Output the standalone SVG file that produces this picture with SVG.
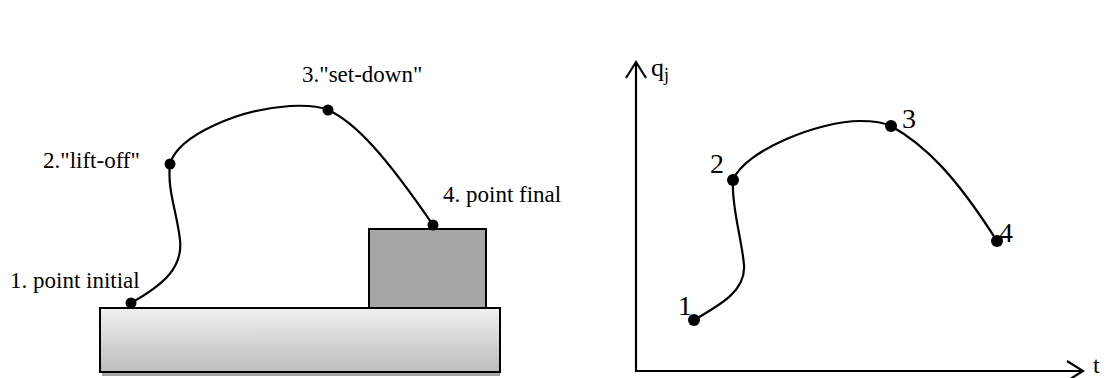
<svg xmlns="http://www.w3.org/2000/svg" width="1109" height="378" viewBox="0 0 1109 378">
<defs>
<linearGradient id="baseGrad" x1="0" y1="0" x2="0" y2="1">
<stop offset="0" stop-color="#f0f0f0"/>
<stop offset="1" stop-color="#bdbdbd"/>
</linearGradient>
</defs>
<style>
.curve{fill:none;stroke:#000;stroke-width:2.2}
.axis{fill:none;stroke:#000;stroke-width:2.2}
.dot{fill:#000}
</style>
<rect x="102" y="372" width="398" height="4" fill="#a6a6a6"/>
<g id="base"><rect x="100" y="308" width="400" height="64" fill="url(#baseGrad)" stroke="#000" stroke-width="2"/></g>
<g id="box"><rect x="369" y="229" width="117" height="79" fill="#a6a6a6" stroke="#000" stroke-width="2"/></g>
<g id="connectors">
<path class="curve" d="M131,303 C163,285 183,268 180,240 C177,212 167,190 170,164"/>
<path class="curve" d="M170,164 C178,135 240,109 290,106 C310,105 321,107 328,110"/>
<path class="curve" d="M328,110 C355,122 385,155 433,225"/>
<path class="axis" d="M636,62 L636,371 L1083,371"/>
<path class="axis" d="M626,78 L636,62 L646,78"/>
<path class="axis" d="M1067,361 L1083,371 L1067,381"/>
<path class="curve" d="M694,320 C722,304 746,290 744,265 C742,240 731,205 733,180"/>
<path class="curve" d="M733,180 C745,150 820,121 860,121 C875,121 885,123 891,126"/>
<path class="curve" d="M891,126 C925,145 955,175 997,241"/>
</g>
<g font-family="Liberation Serif, Times New Roman, DejaVu Serif, serif" fill="#000">
<g id="p1" font-size="23"><circle class="dot" cx="131" cy="303" r="5.5"/><text x="10" y="288">1. point initial</text></g>
<g id="p2" font-size="23"><circle class="dot" cx="170" cy="164" r="5.5"/><text x="43" y="168">2."lift-off"</text></g>
<g id="p3" font-size="23"><circle class="dot" cx="328" cy="110" r="5.5"/><text x="302" y="82">3."set-down"</text></g>
<g id="p4" font-size="23"><circle class="dot" cx="433" cy="225" r="5.5"/><text x="443" y="202">4. point final</text></g>
<g id="q1" font-size="28"><circle class="dot" cx="694" cy="320" r="6"/><text x="678" y="315">1</text></g>
<g id="q2" font-size="28"><circle class="dot" cx="733" cy="180" r="6"/><text x="710" y="173">2</text></g>
<g id="q3" font-size="28"><circle class="dot" cx="891" cy="126" r="6"/><text x="902" y="128">3</text></g>
<g id="q4" font-size="28"><circle class="dot" cx="997" cy="241" r="6"/><text x="999" y="242">4</text></g>
<g id="ylabel"><text x="651" y="76" font-size="26">q<tspan font-size="18" dy="5">j</tspan></text></g>
<g id="xlabel"><text x="1093" y="373" font-size="24">t</text></g>
</g>
</svg>
